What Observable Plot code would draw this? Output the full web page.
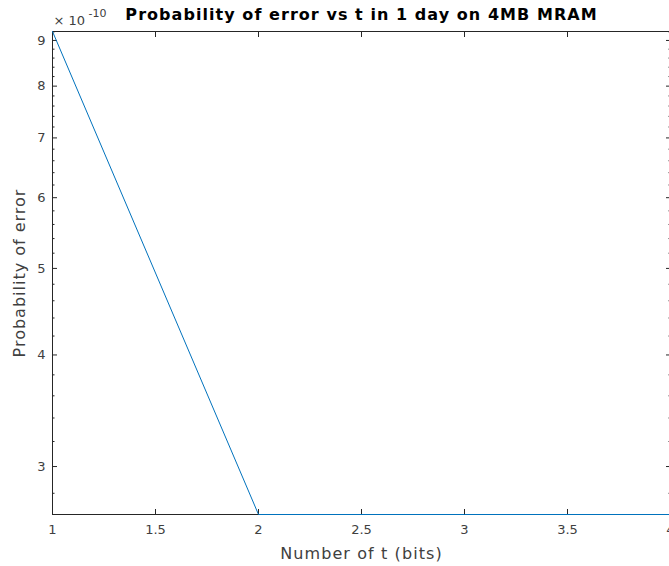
<!DOCTYPE html>
<html><head><meta charset="utf-8">
<script src="https://cdn.jsdelivr.net/npm/d3@7"></script>
<script src="https://cdn.jsdelivr.net/npm/@observablehq/plot@0.6"></script>
<style>body{margin:0;background:#fff;overflow:hidden;}</style>
</head><body><div id="chart"></div>
<script>
const tBits = [1, 2, 3, 4];
const probError = [9.21e-10, 2.651e-10, 2.651e-10, 2.651e-10];
const xTicks = [1, 1.5, 2, 2.5, 3, 3.5, 4];
const yTicks = [3e-10, 4e-10, 5e-10, 6e-10, 7e-10, 8e-10, 9e-10];
const yMinorTicks = [2.8e-10, 3.2e-10, 3.4e-10, 3.6e-10, 3.8e-10, 4.2e-10, 4.4e-10, 4.6e-10, 4.8e-10,
  5.2e-10, 5.4e-10, 5.6e-10, 5.8e-10, 6.2e-10, 6.4e-10, 6.6e-10, 6.8e-10, 7.2e-10, 7.4e-10, 7.6e-10, 7.8e-10,
  8.2e-10, 8.4e-10, 8.6e-10, 8.8e-10, 9.2e-10];
const titleText = "Probability of error vs t in 1 day on 4MB MRAM";
const xLabel = "Number of t (bits)";
const yLabel = "Probability of error";
const expBase = "\u00d7 10";
const expPower = "-10";

const data = tBits.map((t, i) => ({t, p: probError[i]}));
const axisColor = "#262626";
const blank = () => "";

const chart = Plot.plot({
  width: 669, height: 566,
  marginLeft: 52, marginRight: -1, marginTop: 31, marginBottom: 52,
  style: {fontFamily: "DejaVu Sans", fontSize: "13px", color: axisColor, background: "#fff"},
  x: {domain: [1, 4]},
  y: {type: "log", domain: [2.651e-10, 9.21e-10]},
  marks: [
    Plot.frame({stroke: axisColor, strokeWidth: 1}),
    Plot.axisX({ticks: xTicks, tickSize: 0, tickPadding: 10, tickFormat: d => String(d), label: null, fill: "#404040"}),
    Plot.axisX({ticks: xTicks, tickSize: -5, tickFormat: blank, label: null, stroke: axisColor}),
    Plot.axisX({anchor: "top", ticks: xTicks, tickSize: -5, tickFormat: blank, label: null, stroke: axisColor}),
    Plot.axisY({ticks: yTicks, tickSize: 0, tickPadding: 7, tickFormat: d => String(Math.round(d * 1e10)), label: null, fill: "#404040"}),
    Plot.axisY({ticks: yTicks, tickSize: -5, tickFormat: blank, label: null, stroke: axisColor}),
    Plot.axisY({ticks: yMinorTicks, tickSize: -2.5, tickFormat: blank, label: null, stroke: axisColor}),
    Plot.axisY({anchor: "right", ticks: yTicks, tickSize: -5, tickFormat: blank, label: null, stroke: axisColor}),
    Plot.axisY({anchor: "right", ticks: yMinorTicks, tickSize: -2.5, tickFormat: blank, label: null, stroke: axisColor}),
    Plot.line(data, {x: "t", y: "p", stroke: "#0072BD", strokeWidth: 1}),
    Plot.text([titleText], {frameAnchor: "top", textAnchor: "middle", lineAnchor: "middle", dy: -17, text: d => d,
      fontSize: 16, fontWeight: "bold", fill: "#000"}),
    Plot.text([xLabel], {frameAnchor: "bottom", textAnchor: "middle", lineAnchor: "middle", dy: 39, text: d => d,
      fontSize: 16, fill: "#404040"}),
    Plot.text([yLabel], {frameAnchor: "left", textAnchor: "middle", lineAnchor: "middle", dx: -33, rotate: -90, text: d => d,
      fontSize: 16, fill: "#404040"}),
    Plot.text([expBase], {frameAnchor: "top-left", textAnchor: "start", lineAnchor: "middle", dx: 1, dy: -11, text: d => d,
      fontSize: 13, fill: "#404040"}),
    Plot.text([expPower], {frameAnchor: "top-left", textAnchor: "start", lineAnchor: "middle", dx: 36, dy: -18, text: d => d,
      fontSize: 11, fill: "#404040"})
  ]
});
const spacing = new Map([[titleText, 1.05], [xLabel, 1.1], [yLabel, 1.0]]);
d3.select(chart).selectAll("text").each(function() {
  const s = spacing.get(this.textContent);
  if (s) this.setAttribute("letter-spacing", s);
});
document.getElementById("chart").appendChild(chart);
</script>
</body></html>
